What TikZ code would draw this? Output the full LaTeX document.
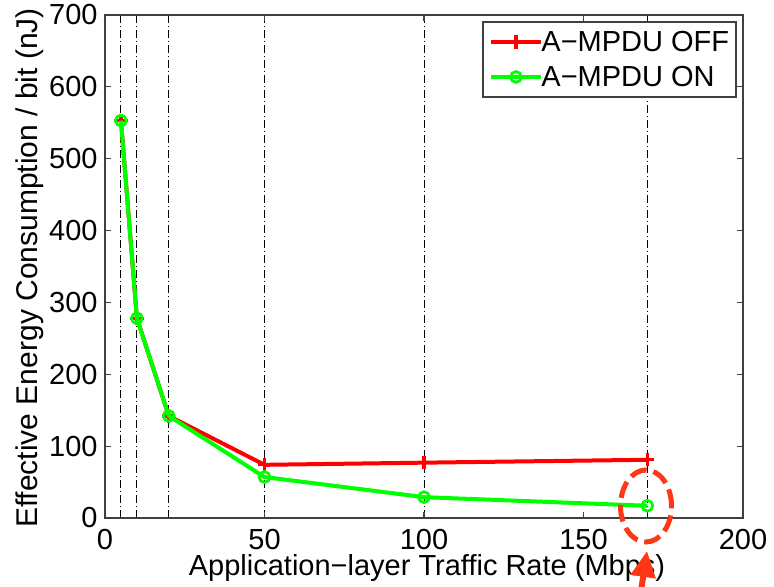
\documentclass[tikz,border=0pt]{standalone}
\usepackage{fontspec}
\setmainfont{Liberation Sans}
\usepackage{tikz}
\usetikzlibrary{shapes,arrows.meta}

\definecolor{offred}{RGB}{255,0,0}
\definecolor{ongreen}{RGB}{0,255,0}
\definecolor{hlred}{RGB}{255,55,20}

\tikzset{
	lbl/.style={font=\fontsize{14.5}{17}\selectfont, inner sep=0pt},
	gridline/.style={black, line width=0.5pt, dash pattern=on 4pt off 1.5pt on 0.5pt off 1.5pt},
	axisline/.style={black!75, line width=0.7pt},
	offline/.style={offred, line width=2pt, line join=round},
	online/.style={ongreen, line width=2pt, line join=round},
}

\begin{document}
\begin{tikzpicture}[x=0.5pt,y=0.5pt]
	\useasboundingbox (0,0) rectangle (774,587);
	\fill[white] (0,0) rectangle (774,587);

	\begin{scope}[shift={(105,69)},x=1.595pt,y=0.3593pt]
	% grid
	\foreach \x in {5,10,20,50,100,170}{
		\draw[gridline] (\x,0) -- (\x,700);
	}

	% axes
	\draw[axisline] (0,0) rectangle (200,700);
	\foreach \y in {0,100,...,700}{
		\draw[axisline,line width=0.6pt] (0,\y) -- +(3pt,0) (200,\y) -- +(-3pt,0);
		\node[lbl,anchor=east] (ytick\y) at ([xshift=-3.5pt]0,\y) {\y};
	}
	\foreach \x in {0,50,...,200}{
		\draw[axisline,line width=0.6pt] (\x,0) -- +(0,3pt) (\x,700) -- +(0,-3pt);
		\node[lbl,anchor=north] (xtick\x) at ([yshift=-5.5pt]\x,0) {\x};
	}

	% A-MPDU off
	\draw[offline] (5,553) -- (10,278) -- (20,142) -- (50,74) -- (100,77) -- (170,81);
	\foreach \x/\y in {5/553,10/278,20/142,50/74,100/77,170/81}{
		\draw[offred,line width=1.6pt] (\x,\y) +(-3.3pt,0) -- +(3.3pt,0) +(0,-3.3pt) -- +(0,3.3pt);
	}

	% A-MPDU on
	\draw[online] (5,553) -- (10,278) -- (20,142) -- (50,57) -- (100,29) -- (170,17);
	\foreach \x/\y in {5/553,10/278,20/142,50/57,100/29,170/17}{
		\draw[ongreen,line width=1.4pt] (\x,\y) circle (2.7pt);
	}
	\end{scope}

	% legend
	\draw[axisline,line width=0.6pt,fill=white] (483,490) rectangle (736,565);
	\node[lbl,anchor=west] (legoff) at (541,545) {A−MPDU OFF};
	\node[lbl,anchor=west] (legon) at (541,510) {A−MPDU ON};
	\draw[offline] ([xshift=-25pt]legoff.west) -- (legoff.west);
	\draw[offred,line width=1.6pt] ([xshift=-12.5pt]legoff.west) +(-3.3pt,0) -- +(3.3pt,0) +(0,-3.3pt) -- +(0,3.3pt);
	\draw[online] ([xshift=-25pt]legon.west) -- (legon.west);
	\draw[ongreen,line width=1.4pt] ([xshift=-12.5pt]legon.west) circle (2.7pt);

	% labels
	\node[lbl,anchor=base] (xlabel) at (427,11) {Application−layer Traffic Rate (Mbps)};
	\node[lbl,font=\fontsize{15}{17}\selectfont,anchor=base,rotate=90] (ylabel) at (37,319) {Effective Energy Consumption / bit (nJ)};

	% highlight
	\node[draw=hlred,ellipse,line width=2.5pt,dash pattern=on 8.5pt off 3.5pt,inner sep=0pt,minimum width=25.5pt,minimum height=36pt] (hl) at (646,81) {};
	\coordinate (arrowfoot) at (641,-4);
	\coordinate (arrowtip) at (647,36);
	\draw[hlred,line width=3pt,-{Triangle[length=13pt,width=12pt]}] (arrowfoot) -- (arrowtip);
\end{tikzpicture}
\end{document}
